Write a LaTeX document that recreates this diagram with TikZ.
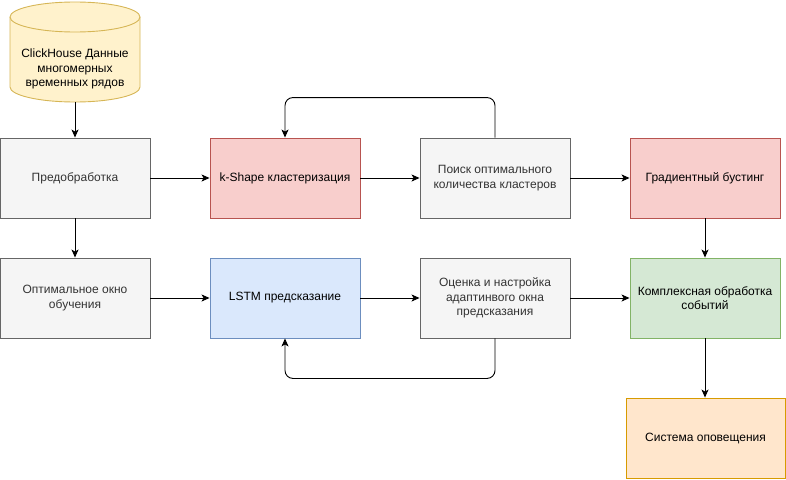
\documentclass[tikz,border=0pt]{standalone}
\usepackage{fontspec}
\setmainfont{Liberation Sans}
\usetikzlibrary{arrows.meta}
\definecolor{grayfill}{HTML}{F5F5F5}
\definecolor{graystroke}{HTML}{666666}
\definecolor{graytext}{HTML}{333333}
\definecolor{redfill}{HTML}{F8CECC}
\definecolor{redstroke}{HTML}{B85450}
\definecolor{bluefill}{HTML}{DAE8FC}
\definecolor{bluestroke}{HTML}{6C8EBF}
\definecolor{greenfill}{HTML}{D5E8D4}
\definecolor{greenstroke}{HTML}{82B366}
\definecolor{orangefill}{HTML}{FFE6CC}
\definecolor{orangestroke}{HTML}{D79B00}
\definecolor{yellowfill}{HTML}{FFF2CC}
\definecolor{yellowstroke}{HTML}{D6B656}
\tikzset{
  box/.style={rectangle, minimum width=150pt, minimum height=80pt, inner sep=0pt, line width=0.9pt,
    align=center, font=\fontsize{12}{14.5}\selectfont},
  graybox/.style={box, fill=grayfill, draw=graystroke, text=graytext},
  redbox/.style={box, fill=redfill, draw=redstroke, text=black},
  bluebox/.style={box, fill=bluefill, draw=bluestroke, text=black},
  greenbox/.style={box, fill=greenfill, draw=greenstroke, text=black},
  orangebox/.style={box, fill=orangefill, draw=orangestroke, text=black},
  conn/.style={draw=black, line width=0.9pt, -{Stealth[length=8pt,width=7pt,inset=2pt]}},
}
\begin{document}
\begin{tikzpicture}[x=1pt, y=-1pt]
\useasboundingbox (0,0) rectangle (786,479);
% cylinder
\fill[yellowfill] (10,17) -- (10,87) arc[start angle=180, end angle=360, x radius=65pt, y radius=15pt]
  -- (140,17) arc[start angle=0, end angle=180, x radius=65pt, y radius=15pt] -- cycle;
\draw[yellowstroke, line width=0.9pt] (10,17) -- (10,87) arc[start angle=180, end angle=360, x radius=65pt, y radius=15pt]
  -- (140,17) arc[start angle=0, end angle=180, x radius=65pt, y radius=15pt] -- cycle;
\draw[yellowstroke, line width=0.9pt] (10,17) arc[start angle=180, end angle=360, x radius=65pt, y radius=15pt];
\node[align=center, font=\fontsize{12}{14.5}\selectfont, text=black, inner sep=0pt] (db) at (75,69)
  {ClickHouse Данные\\многомерных\\временных рядов};
\coordinate (dbbottom) at (75,102);

\node[graybox] (pre) at (75,178) {Предобработка};
\node[redbox] (ks) at (285,178) {k-Shape кластеризация};
\node[graybox] (search) at (495,178) {Поиск оптимального\\количества кластеров};
\node[redbox] (gb) at (705,178) {Градиентный бустинг};

\node[graybox] (win) at (75,298) {Оптимальное окно\\обучения};
\node[bluebox] (lstm) at (285,298) {LSTM предсказание};
\node[graybox] (eval) at (495,298) {Оценка и настройка\\адаптинвого окна\\предсказания};
\node[greenbox] (cep) at (705,298) {Комплексная обработка\\событий};

\node[orangebox, minimum width=159pt] (alert) at (705.5,438) {Система оповещения};

\draw[conn] (dbbottom) -- (pre.north);
\draw[conn] (pre) -- (ks);
\draw[conn] (ks) -- (search);
\draw[conn] (search) -- (gb);
\draw[conn, rounded corners=8pt] (search.north) -- ([yshift=40pt]search.north) -| (ks.north);
\draw[conn] (pre) -- (win);
\draw[conn] (win) -- (lstm);
\draw[conn] (lstm) -- (eval);
\draw[conn] (eval) -- (cep);
\draw[conn] (gb) -- (cep);
\draw[conn] (cep.south) -- (alert.north -| cep.south);
\draw[conn, rounded corners=8pt] (eval.south) -- ([yshift=-40pt]eval.south) -| (lstm.south);
\end{tikzpicture}
\end{document}
